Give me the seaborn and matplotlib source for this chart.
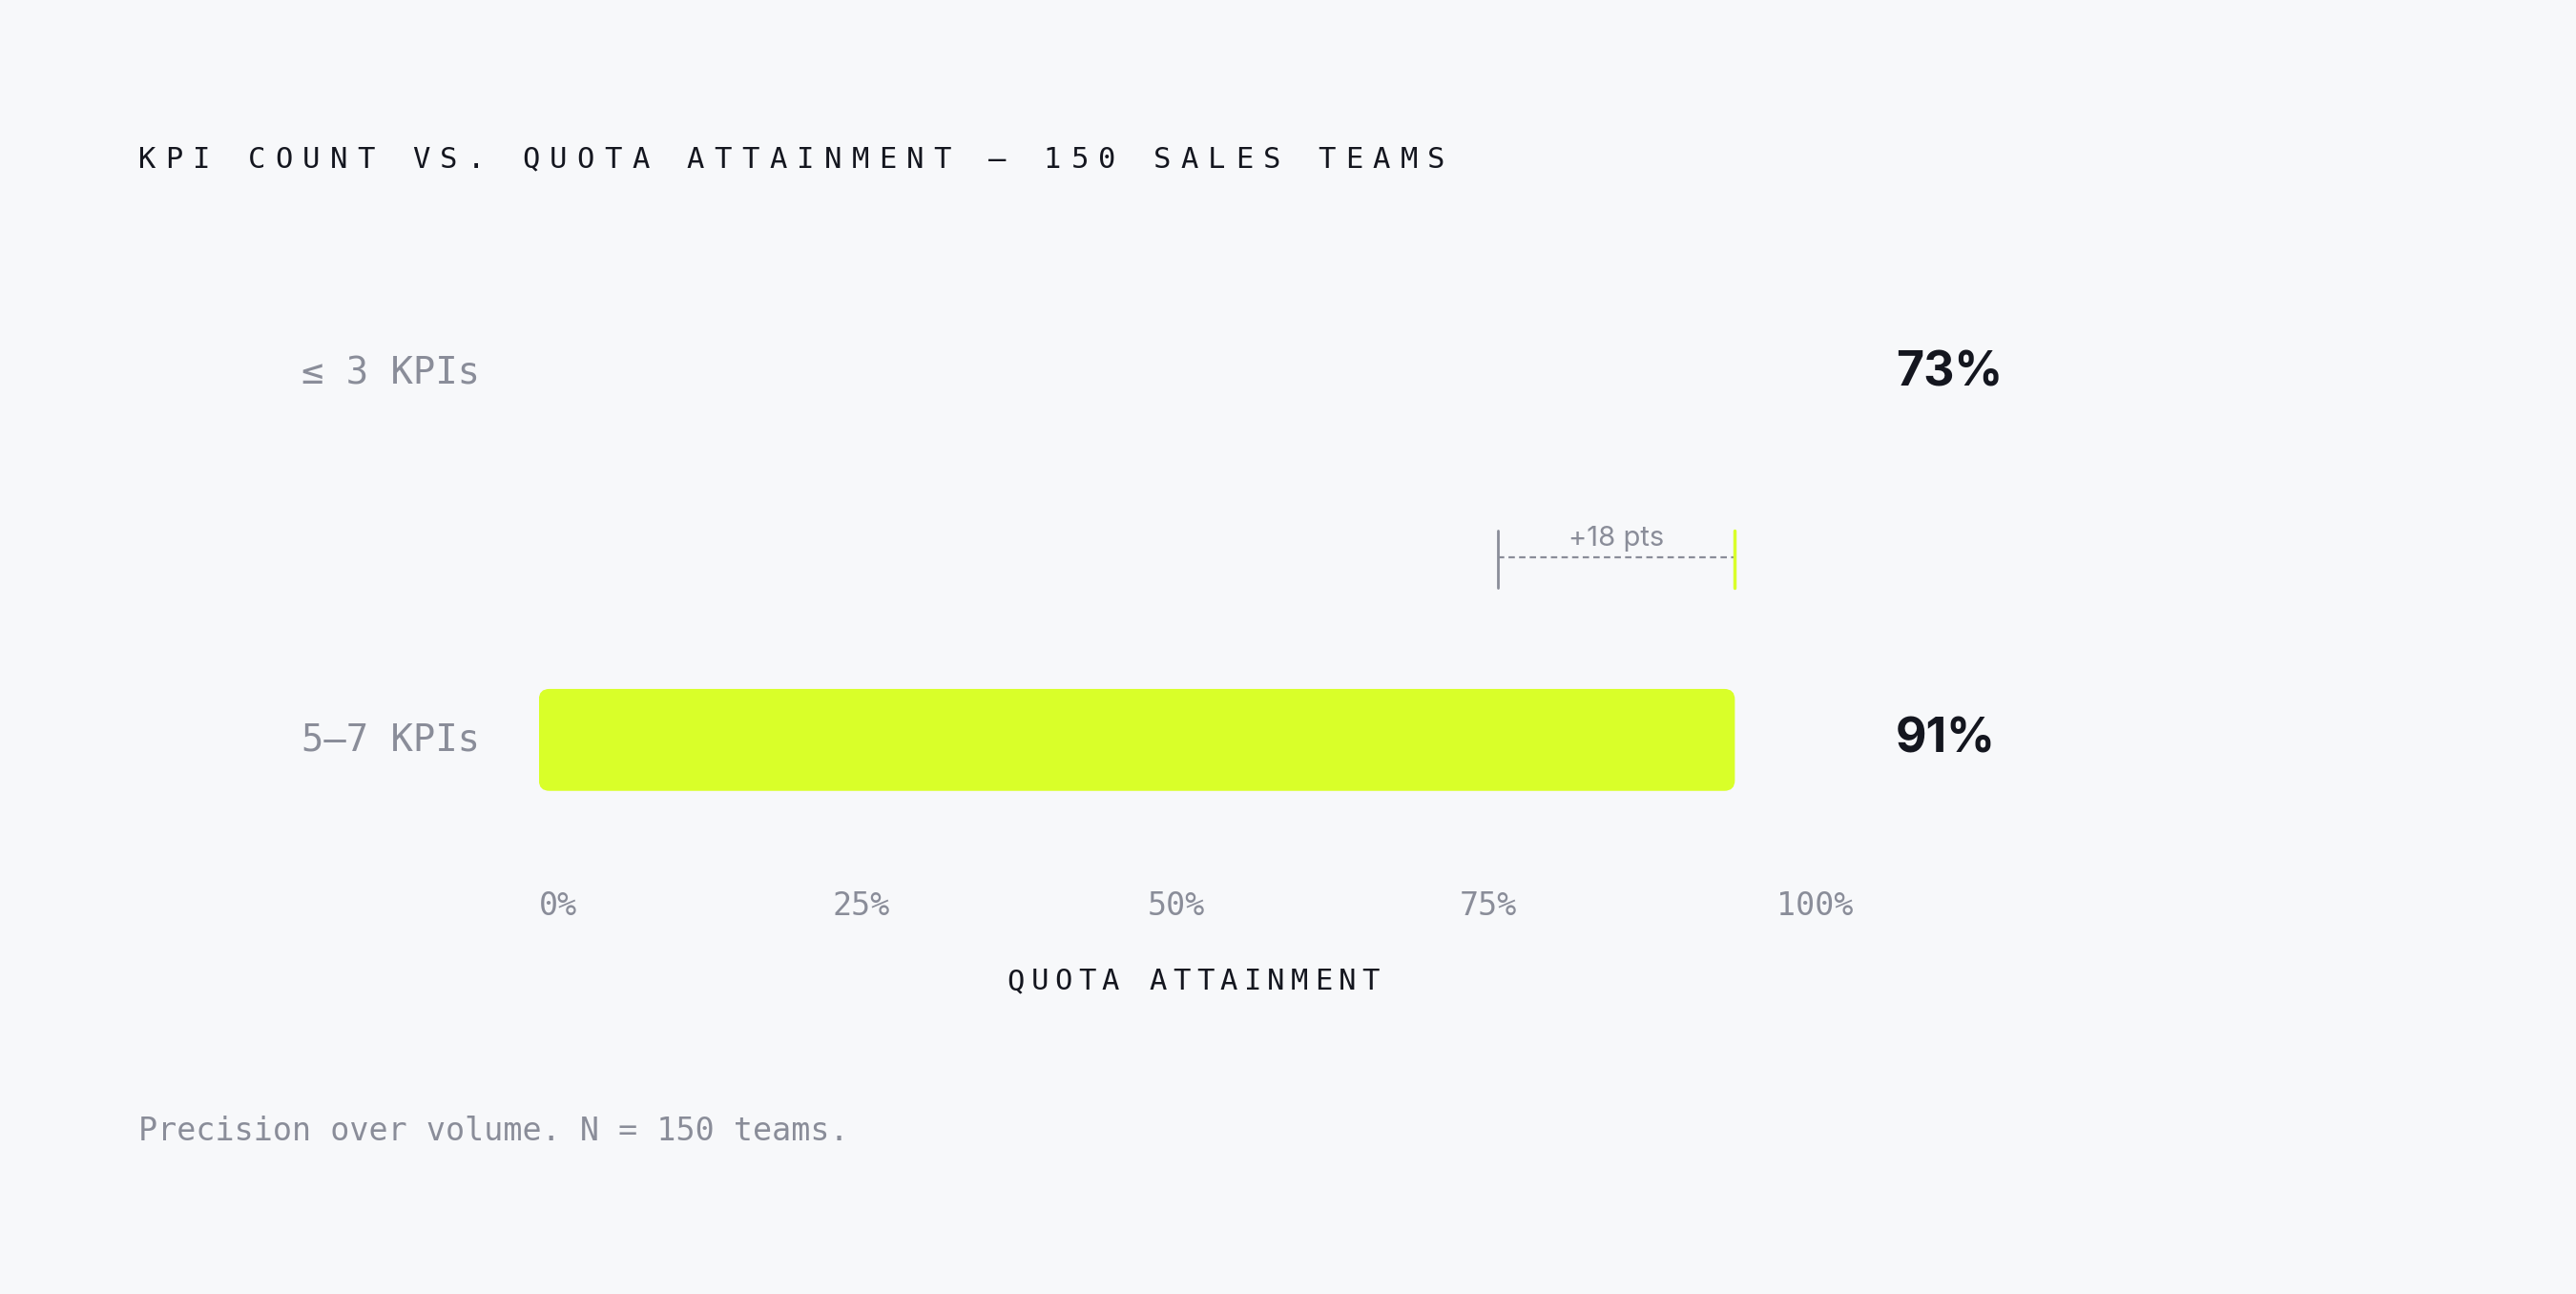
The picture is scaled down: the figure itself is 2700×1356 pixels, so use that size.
import matplotlib
matplotlib.use("Agg")
import matplotlib.pyplot as plt
import seaborn as sns
import pandas as pd
from matplotlib.patches import FancyBboxPatch

categories = ["≤ 3 KPIs", "5–7 KPIs"]
values = [73, 91]
value_labels = ["73%", "91%"]
tick_values = [0, 25, 50, 75, 100]
tick_labels = ["0%", "25%", "50%", "75%", "100%"]
delta_label = "+18 pts"

BG = "#f7f8fa"
LIME = "#d9ff29"
GRAY = "#8a8d99"
DARK = "#14161f"
MONO = ["DejaVu Sans Mono"]
SANS = ["Inter", "DejaVu Sans"]

sns.set_theme(style="white")
plt.rcParams["font.family"] = MONO

W, H = 1568, 787  # reference coordinate frame
fig = plt.figure(figsize=(27, 13.56), dpi=100, facecolor=BG)

def fx(x): return x / W
def fy(y): return 1 - y / H

def spaced(text, x, y, size, color, adv):
    for i, ch in enumerate(text):
        fig.text(fx(x + i * adv), fy(y), ch, fontsize=size, color=color,
                 family=MONO, ha="left", va="center")

ax = fig.add_axes([fx(328), fy(510), fx(1128) - fx(328), (510 - 170) / H])
ax.set_facecolor(BG)
df = pd.DataFrame({"cat": categories, "val": values})
sns.barplot(data=df, x="val", y="cat", orient="h", ax=ax, width=0.278,
            palette=[BG, LIME], hue="cat", legend=False)
ax.set_xlim(0, 100)
ax.set_ylim(1 + 60 / 223, -57 / 223)
for p, c in zip(list(ax.patches), [BG, LIME]):
    x0, y0, w, h = p.get_x(), p.get_y(), p.get_width(), p.get_height()
    p.set_visible(False)
    ax.add_patch(FancyBboxPatch((x0, y0), w, h,
                 boxstyle="round,pad=0,rounding_size=0.8",
                 mutation_aspect=0.036, facecolor=c, edgecolor="none"))
for s in ax.spines.values():
    s.set_visible(False)
ax.set_xticks([]); ax.set_yticks([])
ax.set_xlabel(""); ax.set_ylabel("")

# delta annotation (between rows)
ymid = 0.5
ax.plot([values[0], values[1]], [0.503, 0.503], ls=(0, (3, 2)), color=GRAY, lw=1.6)
ax.plot([values[0]] * 2, [0.43, 0.585], color=GRAY, lw=2)
ax.plot([values[1]] * 2, [0.43, 0.585], color=LIME, lw=2.5)
ax.text((values[0] + values[1]) / 2, 0.45, delta_label, family=SANS, fontsize=21,
        color=GRAY, ha="center", va="center")

# category + value labels
for i, (c, vl) in enumerate(zip(categories, value_labels)):
    ycen = 227 + i * 223
    fig.text(fx(292), fy(ycen), c, fontsize=28, color=GRAY, family=MONO,
             ha="right", va="center")
    fig.text(fx(1154), fy(ycen), vl, fontsize=36, color=DARK, family=SANS,
             fontweight="bold", ha="left", va="center")

# x tick labels (space-between style)
n = len(tick_values)
for i, (tv, tl) in enumerate(zip(tick_values, tick_labels)):
    ha = "left" if i == 0 else ("right" if i == n - 1 else "center")
    xpos = 328 + (1128 - 328) * tv / 100
    if 0 < i < n - 1:
        xpos = [524, 716, 906][i - 1]
    fig.text(fx(xpos), fy(551), tl, fontsize=24, color=GRAY, family=MONO,
             ha=ha, va="center")

spaced("KPI COUNT VS. QUOTA ATTAINMENT — 150 SALES TEAMS", 84, 97, 22, DARK, 16.7)
spaced("QUOTA ATTAINMENT", 613, 597, 22, DARK, 14.4)
fig.text(fx(84), fy(688), "Precision over volume. N = 150 teams.", fontsize=24,
         color=GRAY, family=MONO, ha="left", va="center")

fig.savefig("out.png", dpi=100, facecolor=BG)
